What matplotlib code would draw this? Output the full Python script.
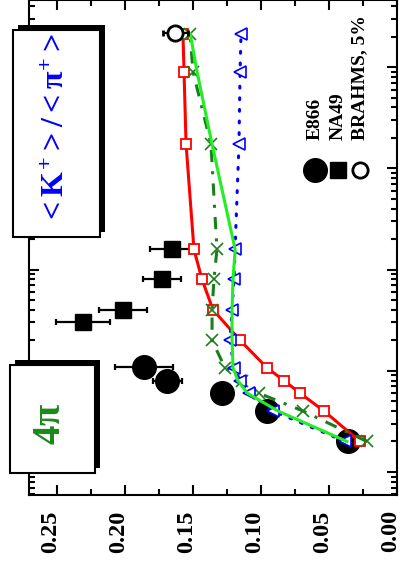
import numpy as np
import matplotlib
matplotlib.use('Agg')
import matplotlib.pyplot as plt
from matplotlib.patches import Rectangle
from matplotlib.transforms import ScaledTranslation
from matplotlib.ticker import MultipleLocator, FormatStrFormatter, LogLocator, NullFormatter

plt.rcParams['font.family'] = 'Liberation Serif'
plt.rcParams['font.weight'] = 'bold'
plt.rcParams['mathtext.fontset'] = 'custom'
plt.rcParams['mathtext.rm'] = 'Liberation Serif:bold'
plt.rcParams['mathtext.bf'] = 'Liberation Serif:bold'
plt.rcParams['mathtext.it'] = 'Liberation Serif:bold'

# beam energy per nucleon [AGeV] and K+/pi+ ratios (4pi yields)
e866_elab = [2, 4, 6, 8, 10.9]
e866_ratio = [0.036, 0.0956, 0.1287, 0.169, 0.186]
e866_err = [0.0, 0.0, 0.0, 0.0106, 0.021]

na49_elab = [30, 40, 80, 158]
na49_ratio = [0.2309, 0.2015, 0.1728, 0.1654]
na49_err = [0.0202, 0.0176, 0.0143, 0.016]

brahms_elab = [21700]
brahms_ratio = [0.163]
brahms_err = [0.009]

# transport model curves on a common energy grid
model_elab = [2, 4, 6, 8, 10.7, 20, 40, 80, 158, 1730, 9000, 21200]
model_red = [0.0272, 0.0537, 0.0713, 0.0831, 0.0956, 0.1154, 0.1353, 0.1434,
             0.1493, 0.1551, 0.1566, 0.1574]
model_lime = [0.0368, 0.0875, 0.110, 0.117, 0.1206, 0.1213, 0.1213, 0.1206,
              0.119, 0.136, 0.147, 0.152]
model_dash = [0.0221, 0.0691, 0.1015, 0.114, 0.1265, 0.136, 0.136, 0.1346,
              0.1324, 0.1368, 0.150, 0.1522]
model_blue = [0.0382, 0.0912, 0.1088, 0.1154, 0.1199, 0.1228, 0.1213, 0.1199,
              0.1191, 0.1162, 0.1154, 0.1147]

W, H = 401, 571
fig = plt.figure(figsize=(W / 100, H / 100), dpi=100)
ax = fig.add_axes([29 / W, 76 / H, 368 / W, 495 / H])


def fx(px):
    return px / W


def fy(py):
    return 1 - py / H


# models
ax.plot(model_red, model_elab, color='red', lw=2.2, marker='s', ms=7,
        mfc='white', mec='red', mew=1.3, zorder=4)
ax.plot(model_lime, model_elab, color='#22ee22', lw=2.2, zorder=5)
ax.plot(model_dash, model_elab, color='#1a7f1a', lw=2.2, ls=(0, (4, 3, 1, 3)),
        marker='x', ms=8, mec='#1a7f1a', mew=1.2, zorder=4)
ax.plot(model_blue, model_elab, color='blue', lw=2.2, ls=(0, (0.6, 3.2)),
        dash_capstyle='round', marker='<', ms=8, mfc='white', mec='blue',
        mew=1.2, zorder=4)

# data
ax.errorbar(e866_ratio, e866_elab, xerr=e866_err, fmt='o', ms=17, color='black',
            elinewidth=1.6, capsize=2.5, capthick=1.6, zorder=3)
ax.errorbar(na49_ratio, na49_elab, xerr=na49_err, fmt='s', ms=11, color='black',
            elinewidth=1.6, capsize=2.5, capthick=1.6, zorder=3)
ax.errorbar(brahms_ratio, brahms_elab, xerr=brahms_err, fmt='o', ms=11, mfc='white',
            mec='black', mew=2, color='black', elinewidth=1.6, capsize=2.5,
            capthick=1.6, zorder=6)

ax.set_xlim(0.2706, 0.0)
ax.set_yscale('log')
ax.set_ylim(10 ** (-23 / 101), 10 ** (4 + 67 / 101))

ax.xaxis.set_major_locator(MultipleLocator(0.05))
ax.xaxis.set_minor_locator(MultipleLocator(0.025))
ax.xaxis.set_major_formatter(FormatStrFormatter('%.2f'))
ax.yaxis.set_major_locator(LogLocator(base=10, numticks=20))
ax.yaxis.set_minor_locator(LogLocator(base=10, subs=np.arange(2, 10), numticks=20))
ax.yaxis.set_minor_formatter(NullFormatter())

ax.tick_params(which='both', direction='in', top=True, right=True, width=1.5)
ax.tick_params(which='major', length=7)
ax.tick_params(which='minor', length=4)
ax.tick_params(axis='x', labelrotation=90, labelsize=17.5, pad=11)
ax.tick_params(axis='y', labelleft=False)
for s in ax.spines.values():
    s.set_linewidth(1.5)
shift = ScaledTranslation(-0.06, 0, fig.dpi_scale_trans)
for lab in ax.get_xticklabels():
    lab.set_transform(lab.get_transform() + shift)


# framed labels with drop shadow
def shadow_box(x0, y0, x1, y1, off=5):
    sh = Rectangle((fx(x0 + off), fy(y1 - off)), fx(x1 - x0), (y1 - y0) / H,
                   transform=fig.transFigure, facecolor='black', edgecolor='none',
                   zorder=8)
    bx = Rectangle((fx(x0), fy(y1)), fx(x1 - x0), (y1 - y0) / H,
                   transform=fig.transFigure, facecolor='white', edgecolor='black',
                   lw=1.5, zorder=9)
    fig.add_artist(sh)
    fig.add_artist(bx)


shadow_box(13, 30, 100, 237)
shadow_box(10, 365, 95, 473)

fig.text(fx(57), fy(129), r'${<}K^{+}{>}/{<}\pi^{+}{>}$', color='blue',
         fontsize=23, rotation=90, ha='center', va='center', zorder=10)
fig.text(fx(50), fy(424), r'$4\pi$', color='#1a8a1a', fontsize=28,
         rotation=90, ha='center', va='center', zorder=10)

# legend
leg_x = [315, 338, 360]
fig.add_artist(plt.Line2D([fx(315)], [fy(170)], marker='o', ms=17, color='black',
                          transform=fig.transFigure))
fig.add_artist(plt.Line2D([fx(338)], [fy(170)], marker='s', ms=11, color='black',
                          transform=fig.transFigure))
fig.add_artist(plt.Line2D([fx(360)], [fy(170)], marker='o', ms=11, mfc='white',
                          mec='black', mew=2, transform=fig.transFigure))
for x, lab in zip(leg_x, ['E866', 'NA49', 'BRAHMS, 5%']):
    fig.text(fx(x), fy(140), lab, fontsize=14, rotation=90, ha='center',
             va='bottom')

fig.savefig('out.png', dpi=100)
